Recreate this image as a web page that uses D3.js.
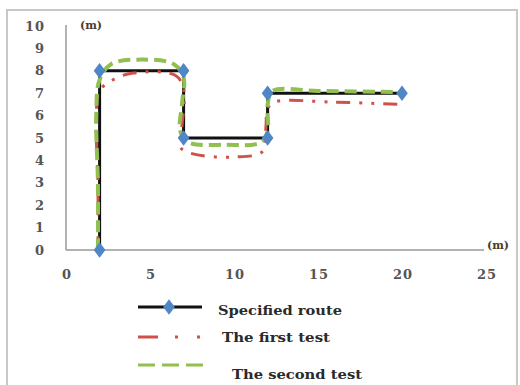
<!DOCTYPE html>
<html><head><meta charset="utf-8">
<script src="https://cdn.jsdelivr.net/npm/d3@7"></script>
<style>body{margin:0;background:#fff}svg{display:block}</style>
</head><body>
<svg id="c" width="520" height="385"></svg>
<script>
const xTicks = [0, 5, 10, 15, 20, 25];
const yTicks = [0, 1, 2, 3, 4, 5, 6, 7, 8, 9, 10];
const seriesNames = ["Specified route", "The first test", "The second test"];
const specified = [[2,0],[2,8],[7,8],[7,5],[12,5],[12,7],[20,7]];
const firstTest = [[1.9,0],[1.9,3],[1.8,5.8],[2.0,7.1],[2.8,7.6],[4,7.9],[6.5,7.8],[7.0,7.2],[6.9,5.5],[6.8,4.6],[7.5,4.3],[10,4.15],[11.7,4.4],[11.9,5.5],[12.0,6.3],[12.4,6.6],[16,6.6],[19.8,6.5]];
const secondTest = [[1.9,0],[1.9,3],[1.8,6],[2.0,7.6],[2.7,8.3],[4.5,8.5],[6.4,8.3],[7.0,7.7],[6.9,6.5],[6.8,5.3],[7.3,4.8],[9.5,4.7],[11.6,4.8],[12,5.3],[12,6.5],[12.3,7.1],[15,7.1],[20,7.05]];

const svg = d3.select("#c");
const x = d3.scaleLinear().domain([0,25]).range([66,486]);
const y = d3.scaleLinear().domain([0,10]).range([250,26]);

svg.append("rect").attr("x",7).attr("y",10).attr("width",510).attr("height",385)
  .attr("fill","none").attr("stroke","#c8c8c8").attr("stroke-width",2);

// axes
svg.append("line").attr("x1",x(0)).attr("x2",x(0)).attr("y1",y(0)).attr("y2",y(10)-1)
  .attr("stroke","#999").attr("stroke-width",1.5);
svg.append("line").attr("x1",x(0)).attr("x2",x(25)-2).attr("y1",y(0)).attr("y2",y(0))
  .attr("stroke","#999").attr("stroke-width",1.5);

const tickFont = "DejaVu Serif, serif";
svg.selectAll(".yt").data(yTicks).enter().append("text")
  .attr("x",45).attr("y",d=>y(d)).attr("dy","0.36em").attr("text-anchor","end")
  .attr("font-family",tickFont).attr("font-size",13).attr("font-weight","bold")
  .attr("letter-spacing",1).attr("fill","#555").text(d=>d);
svg.selectAll(".xt").data(xTicks).enter().append("text")
  .attr("x",d=>x(d)+1).attr("y",274).attr("dy","0.36em").attr("text-anchor","middle")
  .attr("font-family",tickFont).attr("font-size",13).attr("font-weight","bold")
  .attr("letter-spacing",1).attr("fill","#555").text(d=>d);

svg.append("text").attr("x",80).attr("y",25).attr("dy","0.36em")
  .attr("font-family",tickFont).attr("font-size",11).attr("font-weight","bold")
  .attr("fill","#4a3a2a").text("(m)");
svg.append("text").attr("x",487).attr("y",245).attr("dy","0.36em")
  .attr("font-family",tickFont).attr("font-size",11).attr("font-weight","bold")
  .attr("fill","#4a3a2a").text("(m)");

const straight = d3.line().x(d=>x(d[0])).y(d=>y(d[1]));
const smooth = d3.line().x(d=>x(d[0])).y(d=>y(d[1])).curve(d3.curveCatmullRom.alpha(0.5));

svg.append("path").attr("d",straight(specified)).attr("fill","none")
  .attr("stroke","#111").attr("stroke-width",3);
svg.append("path").attr("d",smooth(firstTest)).attr("fill","none")
  .attr("stroke","#d0504a").attr("stroke-width",3).attr("stroke-dasharray","14,9,3,9,3,9");
svg.append("path").attr("d",smooth(secondTest)).attr("fill","none")
  .attr("stroke","#92c050").attr("stroke-width",4).attr("stroke-dasharray","12,6");

const diamond = d3.symbol().type(d3.symbolDiamond).size(70);
svg.selectAll(".m").data(specified).enter().append("path")
  .attr("d",diamond).attr("transform",d=>`translate(${x(d[0])},${y(d[1])}) scale(1.3,1)`)
  .attr("fill","#4f86c6");

// legend
const lg = svg.append("g");
lg.append("line").attr("x1",138).attr("x2",202).attr("y1",307).attr("y2",307)
  .attr("stroke","#111").attr("stroke-width",3);
lg.append("path").attr("d",diamond).attr("transform","translate(169,307) scale(1.3,1)").attr("fill","#4f86c6");
lg.append("line").attr("x1",138).attr("x2",202).attr("y1",337).attr("y2",337)
  .attr("stroke","#d0504a").attr("stroke-width",3).attr("stroke-dasharray","20,17,3,19,3,19");
lg.append("line").attr("x1",138).attr("x2",205).attr("y1",365).attr("y2",365)
  .attr("stroke","#92c050").attr("stroke-width",3).attr("stroke-dasharray","17,7");

const legY = [311, 338, 375], legX = [218, 222, 232], legW = [124, 108, 130];
lg.selectAll(".lt").data(seriesNames).enter().append("text")
  .attr("x",(d,i)=>legX[i]).attr("y",(d,i)=>legY[i]).attr("dy","0.36em")
  .attr("font-family",tickFont).attr("font-size",12).attr("font-weight","bold")
  .attr("textLength",(d,i)=>legW[i]).attr("lengthAdjust","spacingAndGlyphs")
  .attr("fill","#2a2a2a").text(d=>d);
</script>
</body></html>
